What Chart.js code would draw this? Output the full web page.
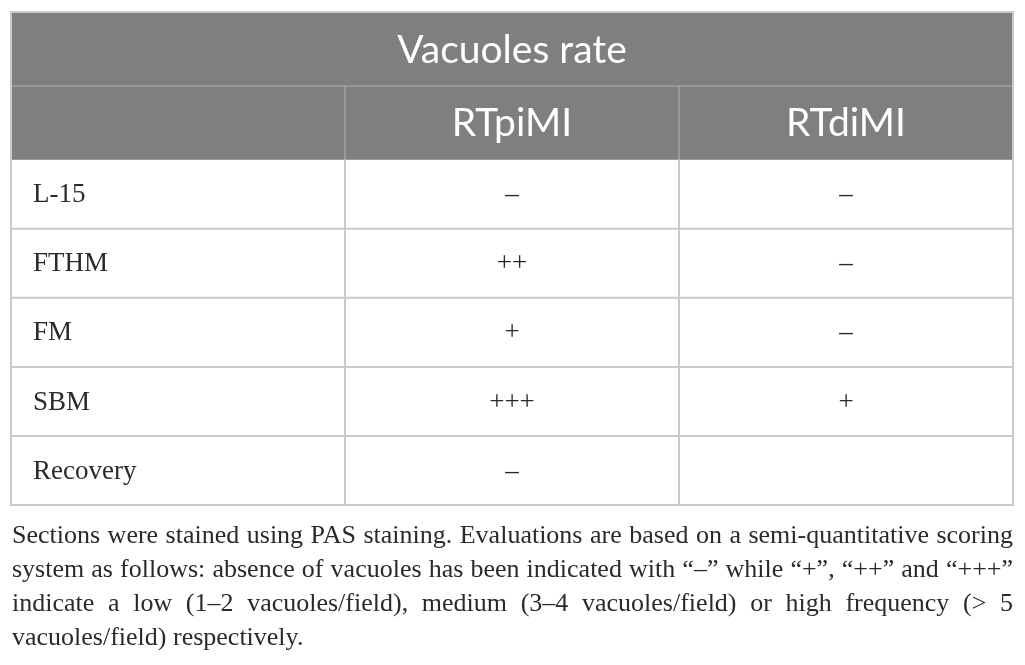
<!DOCTYPE html>
<html>
<head>
<meta charset="utf-8">
<script src="https://cdn.jsdelivr.net/npm/chart.js@4.4.1/dist/chart.umd.min.js"></script>
<style>
  html, body { margin: 0; padding: 0; background: #ffffff; }
  #wrap { position: relative; width: 1025px; height: 665px; overflow: hidden; }
  #table { position: absolute; left: 0; top: 0; }
  #note { position: absolute; left: 12px; top: 518px; width: 1001px;
          font-family: "Liberation Serif", "DejaVu Serif", serif; font-size: 26px;
          line-height: 34px; color: #2a2a2a; }
  #note div { text-align: justify; text-align-last: justify; white-space: nowrap; }
  #note div:last-child { text-align-last: left; }
</style>
</head>
<body>
<div id="wrap">
  <canvas id="table" width="1025" height="665"></canvas>
  <div id="note"></div>
</div>
<script>
// ---- data ----
const title = "Vacuoles rate";
const columns = ["RTpiMI", "RTdiMI"];
const groups = ["L-15", "FTHM", "FM", "SBM", "Recovery"];
const rtpimi = ["–", "++", "+", "+++", "–"];
const rtdimi = ["–", "–", "–", "+", ""];
const notes = [
  "Sections were stained using PAS staining. Evaluations are based on a semi-quantitative scoring",
  "system as follows: absence of vacuoles has been indicated with “–” while “+”, “++” and “+++”",
  "indicate a low (1–2 vacuoles/field), medium (3–4 vacuoles/field) or high frequency (> 5",
  "vacuoles/field) respectively."
];

// ---- layout (row edges in table units, header rows slightly taller) ----
const rowEdges = [0, 1.07, 2.14, 3.14, 4.14, 5.14, 6.14, 7.14];
const rowCenter = i => (rowEdges[i] + rowEdges[i + 1]) / 2;

const headFont = '39px Lato, "Open Sans", sans-serif';
const bodyFont = '27px "Liberation Serif", "DejaVu Serif", serif';

const datasets = [
  { label: 'title', texts: [title], font: headFont, color: '#ffffff', align: 'center',
    data: [{ x: 1.5, y: rowCenter(0) }] },
  { label: 'columns', texts: columns, font: headFont, color: '#ffffff', align: 'center',
    data: columns.map((c, j) => ({ x: j + 1.5, y: rowCenter(1) })) },
  { label: 'groups', texts: groups, font: bodyFont, color: '#2a2a2a', align: 'left',
    data: groups.map((g, i) => ({ x: 0, y: rowCenter(i + 2) })) },
  { label: columns[0], texts: rtpimi, font: bodyFont, color: '#2a2a2a', align: 'center',
    data: rtpimi.map((v, i) => ({ x: 1.5, y: rowCenter(i + 2) })) },
  { label: columns[1], texts: rtdimi, font: bodyFont, color: '#2a2a2a', align: 'center',
    data: rtdimi.map((v, i) => ({ x: 2.5, y: rowCenter(i + 2) })) }
].map(d => Object.assign(d, { pointRadius: 0, pointHoverRadius: 0, showLine: false }));

const tablePlugin = {
  id: 'tablePlugin',
  beforeDraw(chart) {
    const { ctx, width, height } = chart;
    ctx.save();
    ctx.fillStyle = '#ffffff';
    ctx.fillRect(0, 0, width, height);
    ctx.restore();
  },
  beforeDatasetsDraw(chart) {
    const { ctx } = chart;
    const xs = chart.scales.x, ys = chart.scales.y;
    const X = v => xs.getPixelForValue(v), Y = v => ys.getPixelForValue(v);
    ctx.save();
    // header background
    ctx.fillStyle = '#7f7f7f';
    ctx.fillRect(X(0), Y(0), X(3) - X(0), Y(rowEdges[2]) - Y(0));
    // header inner lines
    ctx.strokeStyle = '#a3a3a3';
    ctx.lineWidth = 1.5;
    ctx.beginPath();
    ctx.moveTo(X(0), Y(rowEdges[1])); ctx.lineTo(X(3), Y(rowEdges[1]));
    [1, 2].forEach(c => { ctx.moveTo(X(c), Y(rowEdges[1])); ctx.lineTo(X(c), Y(rowEdges[2])); });
    ctx.stroke();
    // body grid
    ctx.strokeStyle = '#c9c9c9';
    ctx.lineWidth = 2;
    ctx.beginPath();
    for (let r = 3; r < rowEdges.length - 1; r++) {
      ctx.moveTo(X(0), Y(rowEdges[r])); ctx.lineTo(X(3), Y(rowEdges[r]));
    }
    [1, 2].forEach(c => { ctx.moveTo(X(c), Y(rowEdges[2])); ctx.lineTo(X(c), Y(rowEdges[7])); });
    ctx.stroke();
    // outer border
    ctx.beginPath();
    ctx.rect(X(0), Y(0), X(3) - X(0), Y(rowEdges[7]) - Y(0));
    ctx.stroke();
    ctx.restore();
  },
  afterDatasetsDraw(chart) {
    const { ctx } = chart;
    ctx.save();
    ctx.textBaseline = 'middle';
    chart.data.datasets.forEach((ds, di) => {
      const meta = chart.getDatasetMeta(di);
      ctx.font = ds.font;
      ctx.fillStyle = ds.color;
      ctx.textAlign = ds.align;
      meta.data.forEach((el, i) => {
        const t = ds.texts[i];
        if (!t) return;
        const dx = ds.align === 'left' ? 22 : 0;
        ctx.fillText(t, el.x + dx, el.y + 1);
      });
    });
    ctx.restore();
  }
};

document.fonts.load(headFont).then(() => document.fonts.load(bodyFont)).finally(() => {
  new Chart(document.getElementById('table'), {
    type: 'scatter',
    data: { datasets },
    options: {
      responsive: false,
      animation: false,
      events: [],
      layout: { padding: { left: 11, right: 12, top: 12, bottom: 160 } },
      plugins: { legend: { display: false }, tooltip: { enabled: false } },
      scales: {
        x: { type: 'linear', min: 0, max: 3, display: false },
        y: { type: 'linear', min: 0, max: rowEdges[rowEdges.length - 1], reverse: true, display: false }
      }
    },
    plugins: [tablePlugin]
  });
});

const note = document.getElementById('note');
notes.forEach(line => {
  const d = document.createElement('div');
  d.textContent = line;
  note.appendChild(d);
});
</script>
</body>
</html>
